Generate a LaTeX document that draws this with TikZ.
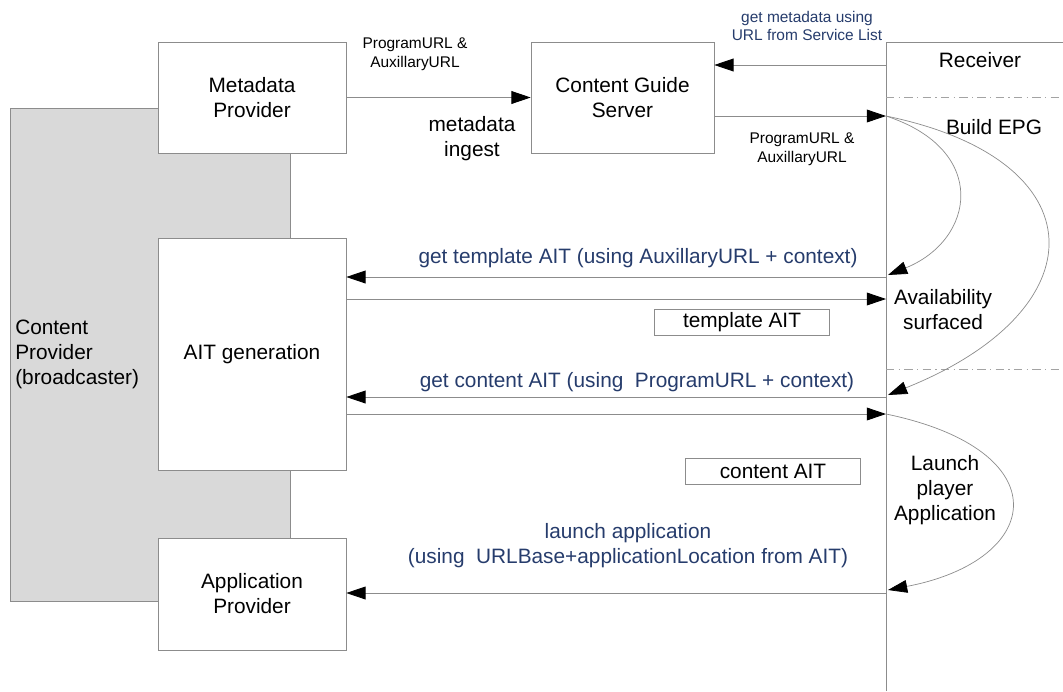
\documentclass[tikz,border=0pt]{standalone}
\usepackage{fontspec}
\setmainfont{Liberation Sans}
\usetikzlibrary{arrows.meta, positioning, calc}
\definecolor{msgblue}{RGB}{38, 60, 108}
\definecolor{linegray}{RGB}{140, 140, 140}
\definecolor{cpgray}{RGB}{217, 217, 217}
\newcommand{\bigtxt}{\fontsize{14.8}{17.8}\selectfont}
\newcommand{\smalltxt}{\fontsize{11}{13.4}\selectfont}
\tikzset{
  actor/.style={draw=linegray, fill=white, align=center, font=\bigtxt, inner sep=2pt},
  msg/.style={draw=linegray, line width=0.6pt, -{Triangle[length=0.48cm, width=0.32cm, color=black]}},
  flow/.style={draw=linegray, line width=0.5pt, -{Triangle[length=0.48cm, width=0.32cm, color=black]}},
  bluelbl/.style={text=msgblue, align=center, font=\bigtxt, inner sep=0pt},
  tag/.style={align=center, inner sep=0pt},
  tokbox/.style={draw=linegray, fill=white, font=\bigtxt, minimum width=4.375cm, minimum height=0.65cm, inner sep=0pt}
}
\begin{document}
\begin{tikzpicture}[x=0.025cm, y=-0.025cm]
  \useasboundingbox (0,0) rectangle (1063,691);

  % content provider
  \draw[draw=linegray, fill=cpgray] (10,108) rectangle (290,601);
  \node[tag, font=\bigtxt, anchor=west, align=left] (cp) at (15,354) {Content\\Provider\\(broadcaster)};

  % actors
  \node[actor, minimum width=4.7cm, minimum height=2.775cm] (meta) at (252,97.5) {Metadata\\Provider};
  \node[actor, minimum width=4.575cm, minimum height=2.775cm] (cgs) at (622.5,97.5) {Content Guide\\Server};
  \node[actor, minimum width=4.7cm, minimum height=5.8cm] (ait) at (252,354) {AIT generation};
  \node[actor, minimum width=4.7cm, minimum height=2.8cm] (app) at (252,594) {Application\\Provider};

  % receiver
  \draw[linegray, line width=0.6pt] (886,691) -- (886,42) -- (1063,42);
  \draw[linegray!80, line width=0.6pt, dash pattern=on 6pt off 3pt on 1pt off 3pt] (886,97) -- (1063,97);
  \draw[linegray!80, line width=0.6pt, dash pattern=on 6pt off 3pt on 1pt off 3pt] (886,369) -- (1063,369);
  \node[tag, font=\bigtxt] (rcv) at (980,60) {Receiver};
  \node[tag, font=\bigtxt] (epg) at (994,127) {Build EPG};
  \node[tag, font=\bigtxt] (avail) at (943,310) {Availability\\surfaced};
  \node[tag, font=\bigtxt] (launch) at (945,490) {Launch\\player\\Application};

  % points on the receiver line
  \coordinate (rMeta) at (886,65);
  \coordinate (rEpg) at (886,116);
  \coordinate (rTmplQ) at (886,277);
  \coordinate (rTmplA) at (886,299);
  \coordinate (rCntQ) at (886,397);
  \coordinate (rCntA) at (886,414);
  \coordinate (rApp) at (886,593);

  % metadata
  \draw[msg] (meta.east) -- (cgs.west);
  \node[tag, font=\smalltxt] (urls1) at (415,54) {ProgramURL \&\\AuxillaryURL};
  \node[tag, font=\bigtxt] (ingest) at (472,139) {metadata\\ingest};
  \draw[msg] (rMeta) -- (rMeta -| cgs.east);
  \node[bluelbl, font=\smalltxt] (getmeta) at (807,26) {get metadata using\\URL from Service List};
  \draw[msg] (rEpg -| cgs.east) -- (rEpg);
  \node[tag, font=\smalltxt] (urls2) at (802,149) {ProgramURL \&\\AuxillaryURL};

  % EPG curves
  \draw[flow] (rEpg) .. controls (990,150) and (975,240) .. ($(rTmplQ)+(2,-2)$);
  \draw[flow] (rEpg) .. controls (1100,160) and (1100,310) .. ($(rCntQ)+(2,-2)$);

  % template AIT
  \draw[msg] (rTmplQ) -- (rTmplQ -| ait.east);
  \node[bluelbl] (gettmpl) at (638,258) {get template AIT (using AuxillaryURL + context)};
  \draw[msg] (rTmplA -| ait.east) -- (rTmplA);
  \node[tokbox] (tmpl) at (742,322) {template AIT};

  % content AIT
  \draw[msg] (rCntQ) -- (rCntQ -| ait.east);
  \node[bluelbl] (getcnt) at (637,382) {get content AIT (using~ ProgramURL + context)};
  \draw[msg] (rCntA -| ait.east) -- (rCntA);
  \node[tokbox] (cnt) at (773,471) {content AIT};

  % launch
  \draw[flow] (rCntA) .. controls (1060,450) and (1045,560) .. ($(rApp)+(2,-3)$);
  \draw[msg] (rApp) -- (rApp -| app.east);
  \node[bluelbl] (launchlbl) at (628,546) {launch application\\(using~ URLBase+applicationLocation from AIT)};
\end{tikzpicture}
\end{document}
